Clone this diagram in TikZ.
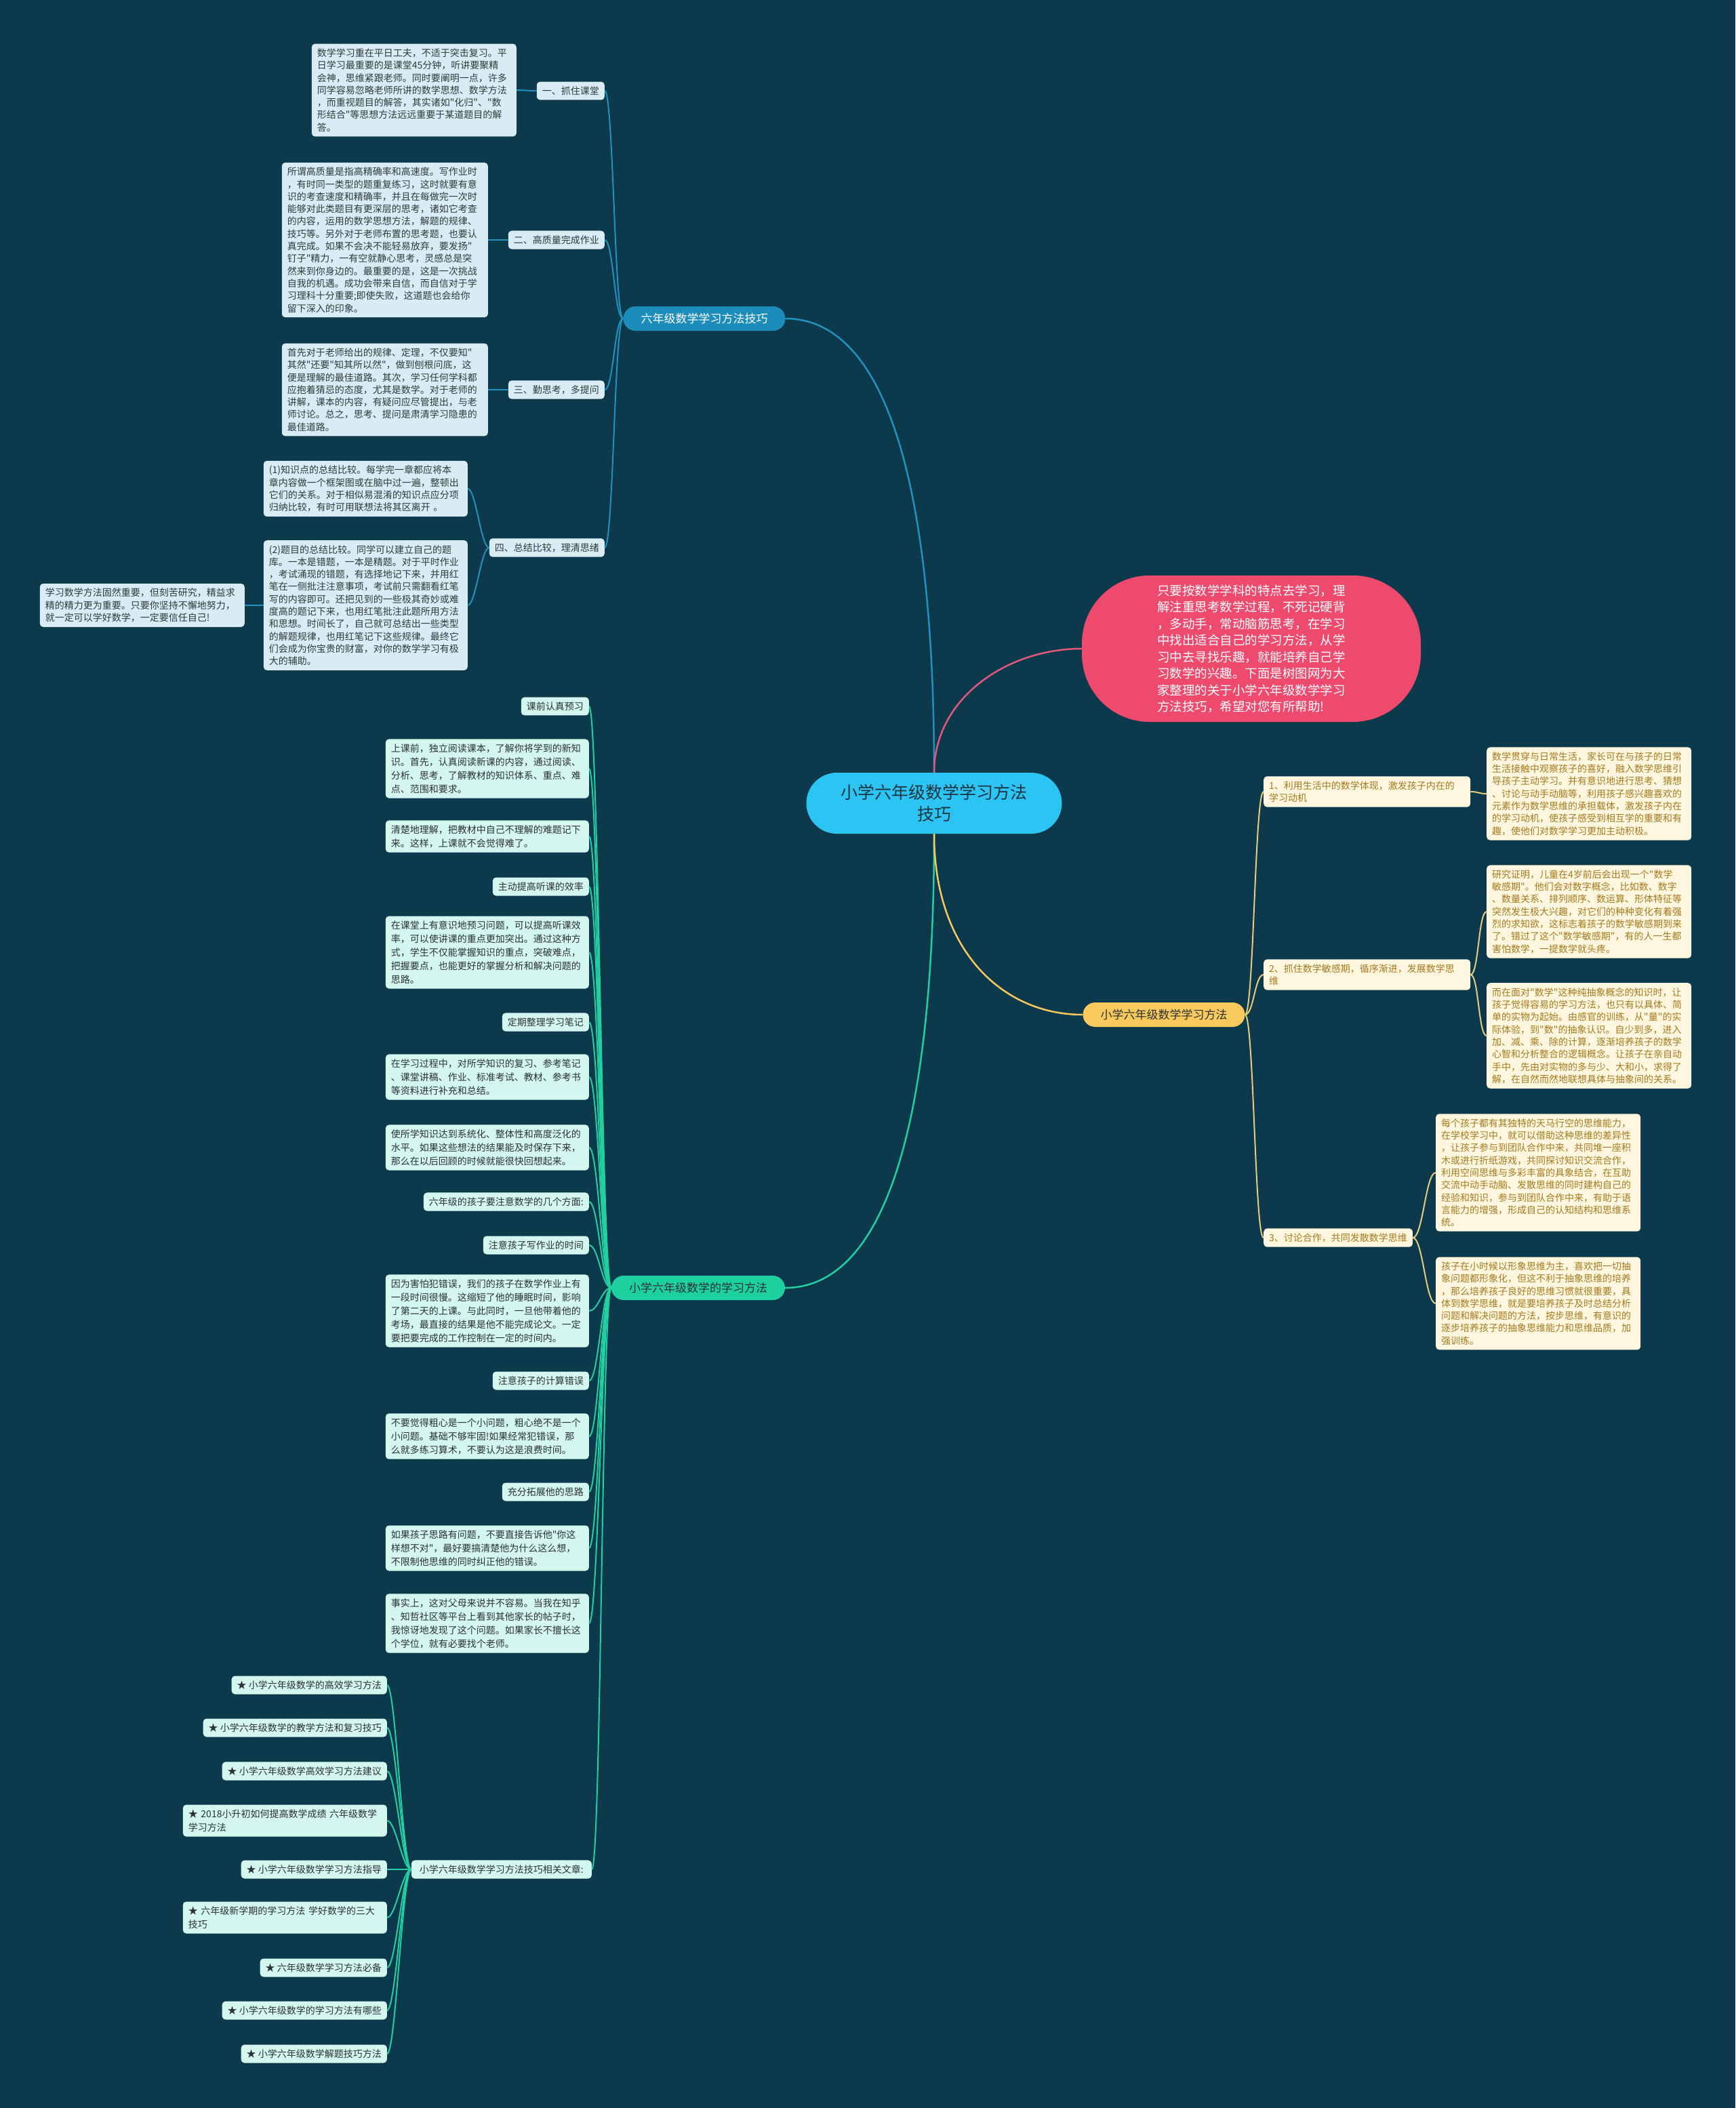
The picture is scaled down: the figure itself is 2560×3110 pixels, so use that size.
\documentclass[tikz,border=0pt]{standalone}
\usepackage{fontspec}
\setmainfont{Noto Sans CJK SC}[Ligatures=TeXOff]
\definecolor{bgc}{HTML}{0C3A4C}
\definecolor{bluefill}{HTML}{D9ECF3}
\definecolor{bluetext}{HTML}{2E3A40}
\definecolor{bluel}{HTML}{2391C0}
\definecolor{blueb}{HTML}{1C8DBB}
\definecolor{redc}{HTML}{EE4A6E}
\definecolor{redl}{HTML}{E0587A}
\definecolor{cyanc}{HTML}{2CC4F2}
\definecolor{centertext}{HTML}{1D3440}
\definecolor{greenb}{HTML}{1DD09F}
\definecolor{greenfill}{HTML}{D3F6EE}
\definecolor{greenl}{HTML}{22CFA0}
\definecolor{greentext}{HTML}{2B3135}
\definecolor{yelb}{HTML}{F8C95C}
\definecolor{yelfill}{HTML}{FEF6DE}
\definecolor{yeltext}{HTML}{A47A1E}
\definecolor{yell}{HTML}{E6CD7A}
\tikzset{
  base/.style={font=\fontsize{14}{18.3}\selectfont, inner xsep=8pt, inner ysep=7pt, rounded corners=5pt, align=left},
  bbox/.style={base, fill=bluefill, text=bluetext},
  gbox/.style={base, fill=greenfill, text=greentext, font=\fontsize{14}{20}\selectfont},
  ybox/.style={base, fill=yelfill, text=yeltext},
  branch/.style={font=\fontsize{17}{20}\selectfont, minimum height=36pt, inner xsep=26pt, rounded corners=18pt},
  bl/.style={draw=bluel, line width=2pt},
  gl/.style={draw=greenl, line width=2pt},
  yl/.style={draw=yell, line width=2pt},
}
\begin{document}
\begin{tikzpicture}[x=1pt,y=-1pt]
\fill[bgc] (0,0) rectangle (2560,3110);
\useasboundingbox (0,0) rectangle (2560,3110);

% ---------- centre and red ----------
\node[fill=cyanc, text=centertext, minimum width=377pt, minimum height=90pt, rounded corners=45pt, align=center, font=\fontsize{25}{32}\selectfont] (C) at (1378,1185) {小学六年级数学学习方法\\技巧};
\node[fill=redc, text=white, minimum width=500pt, minimum height=216pt, rounded corners=100pt, align=left, font=\fontsize{18.5}{24.5}\selectfont] (R) at (1846,957) {只要按数学学科的特点去学习，理\\解注重思考数学过程，不死记硬背\\，多动手，常动脑筋思考，在学习\\中找出适合自己的学习方法，从学\\习中去寻找乐趣，就能培养自己学\\习数学的兴趣。下面是树图网为大\\家整理的关于小学六年级数学学习\\方法技巧，希望对您有所帮助!};

% ---------- branches ----------
\node[branch, fill=blueb, text=white] (B) at (1039,470) {六年级数学学习方法技巧};
\node[branch, fill=greenb, text=greentext] (G) at (1030,1900) {小学六年级数学的学习方法};
\node[branch, fill=yelb, text=greentext] (Y) at (1717,1497) {小学六年级数学学习方法};

\draw[draw=bluel, line width=2.5pt] (B.east) .. controls +(140,0) and +(0,-450) .. (C.north);
\draw[draw=redl, line width=2.5pt] (C.north) .. controls +(0,-110) and +(-110,0) .. (R.west);
\draw[draw=greenl, line width=2.5pt] (C.south) .. controls +(0,450) and +(140,0) .. (G.east);
\draw[draw=yelb, line width=2.5pt] (C.south) .. controls +(0,170) and +(-120,0) .. (Y.west);

% ---------- blue subtree ----------
\node[bbox, anchor=east] (l1) at (892,134) {一、抓住课堂};
\node[bbox, anchor=east] (l2) at (892,354) {二、高质量完成作业};
\node[bbox, anchor=east] (l3) at (892,575) {三、勤思考，多提问};
\node[bbox, anchor=east] (l4) at (892,808) {四、总结比较，理清思绪};

\node[bbox, anchor=east, text width=286pt] (a1) at (762,133) {数学学习重在平日工夫，不适于突击复习。平\\日学习最重要的是课堂45分钟，听讲要聚精\\会神，思维紧跟老师。同时要阐明一点，许多\\同学容易忽略老师所讲的数学思想、数学方法\\，而重视题目的解答，其实诸如"化归"、"数\\形结合"等思想方法远远重要于某道题目的解\\答。};
\node[bbox, anchor=east, text width=288pt] (a2) at (720,354) {所谓高质量是指高精确率和高速度。写作业时\\，有时同一类型的题重复练习，这时就要有意\\识的考查速度和精确率，并且在每做完一次时\\能够对此类题目有更深层的思考，诸如它考查\\的内容，运用的数学思想方法，解题的规律、\\技巧等。另外对于老师布置的思考题，也要认\\真完成。如果不会决不能轻易放弃，要发扬"\\钉子"精力，一有空就静心思考，灵感总是突\\然来到你身边的。最重要的是，这是一次挑战\\自我的机遇。成功会带来自信，而自信对于学\\习理科十分重要;即使失败，这道题也会给你\\留下深入的印象。};
\node[bbox, anchor=east, text width=288pt] (a3) at (720,575) {首先对于老师给出的规律、定理，不仅要知"\\其然"还要"知其所以然"，做到刨根问底，这\\便是理解的最佳道路。其次，学习任何学科都\\应抱着猜忌的态度，尤其是数学。对于老师的\\讲解，课本的内容，有疑问应尽管提出，与老\\师讨论。总之，思考、提问是肃清学习隐患的\\最佳道路。};
\node[bbox, anchor=east, text width=285pt] (a4a) at (690,721) {(1)知识点的总结比较。每学完一章都应将本\\章内容做一个框架图或在脑中过一遍，整顿出\\它们的关系。对于相似易混淆的知识点应分项\\归纳比较，有时可用联想法将其区离开 。};
\node[bbox, anchor=east, text width=285pt] (a4b) at (690,893) {(2)题目的总结比较。同学可以建立自己的题\\库。一本是错题，一本是精题。对于平时作业\\，考试涌现的错题，有选择地记下来，并用红\\笔在一侧批注注意事项，考试前只需翻看红笔\\写的内容即可。还把见到的一些极其奇妙或难\\度高的题记下来，也用红笔批注此题所用方法\\和思想。时间长了，自己就可总结出一些类型\\的解题规律，也用红笔记下这些规律。最终它\\们会成为你宝贵的财富，对你的数学学习有极\\大的辅助。};
\node[bbox, anchor=east, text width=286pt] (s) at (361,893) {学习数学方法固然重要，但刻苦研究，精益求\\精的精力更为重要。只要你坚持不懈地努力，\\就一定可以学好数学，一定要信任自己!};

\foreach \n in {l1,l2,l3,l4}
  \draw[bl] (B.west) .. controls +(-13,0) and +(13,0) .. (\n.east);
\draw[bl] (l1.west) .. controls +(-12,0) and +(12,0) .. (a1.east);
\draw[bl] (l2.west) -- (a2.east);
\draw[bl] (l3.west) -- (a3.east);
\draw[bl] (l4.west) .. controls +(-12,0) and +(12,0) .. (a4a.east);
\draw[bl] (l4.west) .. controls +(-12,0) and +(12,0) .. (a4b.east);
\draw[bl] (a4b.west) .. controls +(-14,0) and +(14,0) .. (s.east);

% ---------- green subtree ----------
\node[gbox, anchor=east] (g1) at (869,1042) {课前认真预习};
\node[gbox, anchor=east, text width=284pt] (g2) at (869,1134) {上课前，独立阅读课本，了解你将学到的新知\\识。首先，认真阅读新课的内容，通过阅读、\\分析、思考，了解教材的知识体系、重点、难\\点、范围和要求。};
\node[gbox, anchor=east, text width=284pt] (g3) at (869,1234) {清楚地理解，把教材中自己不理解的难题记下\\来。这样，上课就不会觉得难了。};
\node[gbox, anchor=east] (g4) at (869,1308) {主动提高听课的效率};
\node[gbox, anchor=east, text width=284pt] (g5) at (869,1405) {在课堂上有意识地预习问题，可以提高听课效\\率，可以使讲课的重点更加突出。通过这种方\\式，学生不仅能掌握知识的重点，突破难点，\\把握要点，也能更好的掌握分析和解决问题的\\思路。};
\node[gbox, anchor=east] (g6) at (869,1508) {定期整理学习笔记};
\node[gbox, anchor=east, text width=284pt] (g7) at (869,1589) {在学习过程中，对所学知识的复习、参考笔记\\、课堂讲稿、作业、标准考试、教材、参考书\\等资料进行补充和总结。};
\node[gbox, anchor=east, text width=284pt] (g8) at (869,1693) {使所学知识达到系统化、整体性和高度泛化的\\水平。如果这些想法的结果能及时保存下来，\\那么在以后回顾的时候就能很快回想起来。};
\node[gbox, anchor=east] (g9) at (869,1773) {六年级的孩子要注意数学的几个方面:};
\node[gbox, anchor=east] (g10) at (869,1837) {注意孩子写作业的时间};
\node[gbox, anchor=east, text width=284pt] (g11) at (869,1934) {因为害怕犯错误，我们的孩子在数学作业上有\\一段时间很慢。这缩短了他的睡眠时间，影响\\了第二天的上课。与此同时，一旦他带着他的\\考场，最直接的结果是他不能完成论文。一定\\要把要完成的工作控制在一定的时间内。};
\node[gbox, anchor=east] (g12) at (869,2037) {注意孩子的计算错误};
\node[gbox, anchor=east, text width=284pt] (g13) at (869,2119) {不要觉得粗心是一个小问题，粗心绝不是一个\\小问题。基础不够牢固!如果经常犯错误，那\\么就多练习算术，不要认为这是浪费时间。};
\node[gbox, anchor=east] (g14) at (869,2201) {充分拓展他的思路};
\node[gbox, anchor=east, text width=284pt] (g15) at (869,2284) {如果孩子思路有问题，不要直接告诉他"你这\\样想不对"，最好要搞清楚他为什么这么想，\\不限制他思维的同时纠正他的错误。};
\node[gbox, anchor=east, text width=284pt] (g16) at (869,2395) {事实上，这对父母来说并不容易。当我在知乎\\、知哲社区等平台上看到其他家长的帖子时，\\我惊讶地发现了这个问题。如果家长不擅长这\\个学位，就有必要找个老师。};
\node[gbox, anchor=east, inner xsep=12pt] (rel) at (873,2758) {小学六年级数学学习方法技巧相关文章:};

\foreach \n in {g1,g2,g3,g4,g5,g6,g7,g8,g9,g10,g11,g12,g13,g14,g15,g16,rel}
  \draw[gl] (G.west) .. controls +(-14,0) and +(14,0) .. (\n.east);

\node[gbox, anchor=east] (r1) at (571,2486) {★ 小学六年级数学的高效学习方法};
\node[gbox, anchor=east] (r2) at (571,2549) {★ 小学六年级数学的教学方法和复习技巧};
\node[gbox, anchor=east] (r3) at (571,2613) {★ 小学六年级数学高效学习方法建议};
\node[gbox, anchor=east, text width=285pt] (r4) at (571,2686) {★ 2018小升初如何提高数学成绩 六年级数学\\学习方法};
\node[gbox, anchor=east] (r5) at (571,2758) {★ 小学六年级数学学习方法指导};
\node[gbox, anchor=east, text width=285pt] (r6) at (571,2829) {★ 六年级新学期的学习方法 学好数学的三大\\技巧};
\node[gbox, anchor=east] (r7) at (571,2903) {★ 六年级数学学习方法必备};
\node[gbox, anchor=east] (r8) at (571,2966) {★ 小学六年级数学的学习方法有哪些};
\node[gbox, anchor=east] (r9) at (571,3030) {★ 小学六年级数学解题技巧方法};

\foreach \n in {r1,r2,r3,r4,r5,r6,r7,r8,r9}
  \draw[gl] (rel.west) .. controls +(-13,0) and +(13,0) .. (\n.east);

% ---------- yellow subtree ----------
\node[ybox, anchor=west, text width=289pt] (y1) at (1864,1168) {1、利用生活中的数学体现，激发孩子内在的\\学习动机};
\node[ybox, anchor=west, text width=289pt] (y2) at (1864,1438) {2、抓住数学敏感期，循序渐进，发展数学思\\维};
\node[ybox, anchor=west] (y3) at (1864,1826) {3、讨论合作，共同发散数学思维};

\node[ybox, anchor=west, text width=286pt] (y1d) at (2193,1171) {数学贯穿与日常生活，家长可在与孩子的日常\\生活接触中观察孩子的喜好，融入数学思维引\\导孩子主动学习。并有意识地进行思考、猜想\\、讨论与动手动脑等，利用孩子感兴趣喜欢的\\元素作为数学思维的承担载体，激发孩子内在\\的学习动机，使孩子感受到相互学的重要和有\\趣，使他们对数学学习更加主动积极。};
\node[ybox, anchor=west, text width=286pt] (y2a) at (2193,1345) {研究证明，儿童在4岁前后会出现一个"数学\\敏感期"。他们会对数字概念，比如数、数字\\、数量关系、排列顺序、数运算、形体特征等\\突然发生极大兴趣，对它们的种种变化有着强\\烈的求知欲，这标志着孩子的数学敏感期到来\\了。错过了这个"数学敏感期"，有的人一生都\\害怕数学，一提数学就头疼。};
\node[ybox, anchor=west, text width=286pt] (y2b) at (2193,1528) {而在面对"数学"这种纯抽象概念的知识时，让\\孩子觉得容易的学习方法，也只有以具体、简\\单的实物为起始。由感官的训练，从"量"的实\\际体验，到"数"的抽象认识。自少到多，进入\\加、减、乘、除的计算，逐渐培养孩子的数学\\心智和分析整合的逻辑概念。让孩子在亲自动\\手中，先由对实物的多与少、大和小，求得了\\解，在自然而然地联想具体与抽象间的关系。};
\node[ybox, anchor=west, text width=286pt] (y3a) at (2118,1730) {每个孩子都有其独特的天马行空的思维能力，\\在学校学习中，就可以借助这种思维的差异性\\，让孩子参与到团队合作中来，共同堆一座积\\木或进行折纸游戏，共同探讨知识交流合作，\\利用空间思维与多彩丰富的具象结合，在互助\\交流中动手动脑、发散思维的同时建构自己的\\经验和知识，参与到团队合作中来，有助于语\\言能力的增强，形成自己的认知结构和思维系\\统。};
\node[ybox, anchor=west, text width=286pt] (y3b) at (2118,1923) {孩子在小时候以形象思维为主，喜欢把一切抽\\象问题都形象化，但这不利于抽象思维的培养\\，那么培养孩子良好的思维习惯就很重要，具\\体到数学思维，就是要培养孩子及时总结分析\\问题和解决问题的方法，按步思维，有意识的\\逐步培养孩子的抽象思维能力和思维品质，加\\强训练。};

\foreach \n in {y1,y2,y3}
  \draw[yl] (Y.east) .. controls +(13,0) and +(-13,0) .. (\n.west);
\draw[yl] (y1.east) .. controls +(12,0) and +(-12,0) .. (y1d.west);
\draw[yl] (y2.east) .. controls +(12,0) and +(-12,0) .. (y2a.west);
\draw[yl] (y2.east) .. controls +(12,0) and +(-12,0) .. (y2b.west);
\draw[yl] (y3.east) .. controls +(15,0) and +(-15,0) .. (y3a.west);
\draw[yl] (y3.east) .. controls +(15,0) and +(-15,0) .. (y3b.west);
\end{tikzpicture}
\end{document}
